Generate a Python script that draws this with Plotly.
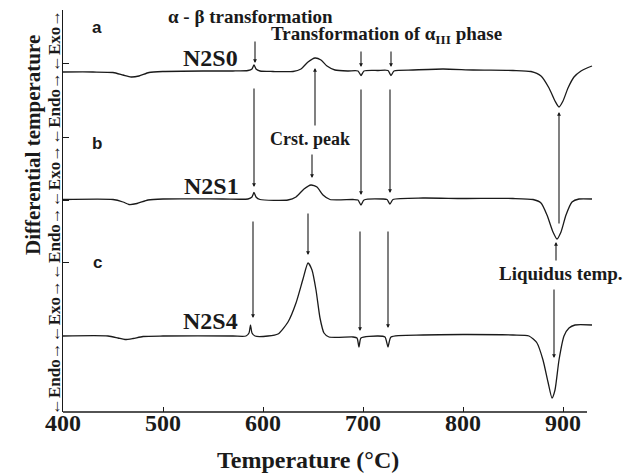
import plotly.graph_objects as go

# ---- data (temperature in °C, signal in arbitrary units) ----
temp_a = [400, 430, 450, 460, 468, 476, 486, 500, 540, 570, 585, 589, 591, 593, 597, 610, 630, 638, 645, 652,
          658, 664, 672, 685, 695, 698, 701, 715, 725, 728, 731, 750, 780, 810, 850, 868, 878, 886, 892, 896,
          900, 905, 911, 918, 924, 929]
sig_a = [340, 340, 339.5, 337, 335, 336, 339.5, 340.5, 341, 341, 341.5, 343, 347, 343, 341, 340.5, 340.5, 343, 350, 354,
         352, 346, 342, 341, 341, 336.5, 341, 341.5, 341.5, 336.5, 341, 342, 343, 342, 341.5, 340.5, 336, 324, 311, 305,
         311, 324, 335, 341, 344, 346]

temp_b = [400, 450, 460, 466, 474, 485, 500, 560, 585, 589, 591, 593, 597, 625, 633, 641, 648, 654, 660, 667,
          690, 695, 698, 701, 720, 724, 727, 730, 760, 800, 850, 870, 878, 884, 890, 894, 898, 903, 909, 916, 929]
sig_b = [212.5, 212.5, 210, 207.5, 208.5, 212, 213, 213, 213, 215, 219.5, 215, 212.5, 212, 215, 223, 227, 225, 217, 212.5,
         212.5, 212, 207, 212, 213, 212.5, 208, 212.5, 214, 213.5, 213.5, 212.5, 209, 197, 180, 173, 180, 197, 210, 213, 213]

temp_c = [400, 445, 455, 462, 470, 480, 500, 570, 583, 586, 587.5, 589, 592, 605, 615, 625, 633, 640, 645, 649,
          653, 657, 661, 666, 690, 694, 696, 698, 715, 722, 725, 728, 760, 800, 850, 866, 874, 880, 885, 889,
          892, 896, 901, 906, 912, 929]
sig_c = [76, 76, 74, 72.5, 73.5, 75.5, 76, 76, 76, 79, 87, 79, 76, 76, 78, 90, 109, 133, 149, 142,
         122, 94, 79, 75, 75, 74, 65, 74, 76, 75, 65, 75, 77, 77.5, 77, 76, 69, 52, 30, 14,
         22, 52, 76, 84, 87, 87]

# marker arrows: (temperature, tail signal, head signal)
arrows = [
    (592, 372, 349), (591, 325, 225), (590, 192, 94),     # alpha-beta transformation
    (652, 285, 344), (649, 259, 234), (645, 200, 157),    # crystallisation peak
    (698, 362, 345), (698, 324, 217), (697, 182, 81),     # alpha_III (1)
    (728, 362, 345), (727, 324, 219), (725, 182, 84),     # alpha_III (2)
    (896, 187, 300), (893, 150, 170), (891, 124, 54),     # liquidus
]

x_ticks = [400, 500, 600, 700, 800, 900]
y_ticks = [349, 275, 212, 150]

curve_labels = [("a", 434, 385), ("b", 434, 269), ("c", 434, 150)]
sample_labels = [("N2S0", 547, 354), ("N2S1", 548, 226), ("N2S4", 547, 91)]

SERIF = "Liberation Serif, Times New Roman, serif"
SANS = "Liberation Sans, Arial, sans-serif"
INK = "#1a1a1a"

fig = go.Figure()
for t, s in [(temp_a, sig_a), (temp_b, sig_b), (temp_c, sig_c)]:
    fig.add_trace(go.Scatter(x=t, y=s, mode="lines",
                             line=dict(color=INK, width=1.3, shape="spline", smoothing=0.6),
                             showlegend=False, hoverinfo="skip"))

ann = []
for t, tail, head in arrows:
    ann.append(dict(x=t, y=head, ax=t, ay=tail, xref="x", yref="y", axref="x", ayref="y",
                    text="", showarrow=True, arrowhead=2, arrowsize=0.7, arrowwidth=1.1,
                    arrowcolor=INK))
for txt, t, s in curve_labels:
    ann.append(dict(x=t, y=s, xref="x", yref="y", text=txt, showarrow=False,
                    font=dict(family=SANS, size=17, color=INK, weight="bold")))
for txt, t, s in sample_labels:
    ann.append(dict(x=t, y=s, xref="x", yref="y", text=txt, showarrow=False,
                    font=dict(family=SERIF, size=24, color=INK, weight="bold")))

# paper coordinates for texts outside the plotting area (plot: x 63..593 px, y 10..412 px)
def px_x(px):
    return (px - 63) / 530.0

def px_y(py):
    return (412 - py) / 402.0

ann += [
    dict(x=503, y=396, xref="x", yref="y", xanchor="left", showarrow=False,
         text="α - β transformation", font=dict(family=SERIF, size=19, color=INK, weight="bold")),
    dict(x=606, y=377, xref="x", yref="y", xanchor="left", showarrow=False,
         text="Transformation of α<sub>III</sub> phase", font=dict(family=SERIF, size=19, color=INK, weight="bold")),
    dict(x=605, y=273, xref="x", yref="y", xanchor="left", showarrow=False,
         text="Crst. peak", font=dict(family=SERIF, size=18, color=INK, weight="bold")),
    dict(x=834, y=139, xref="x", yref="y", xanchor="left", showarrow=False,
         text="Liquidus temp.", font=dict(family=SERIF, size=19, color=INK, weight="bold")),
    dict(x=px_x(308), y=px_y(460), xref="paper", yref="paper", xanchor="center", yanchor="middle",
         showarrow=False,
         text="Temperature (°C)", font=dict(family=SERIF, size=24, color=INK, weight="bold")),
    dict(x=px_x(33), y=px_y(145), xref="paper", yref="paper", xanchor="center", yanchor="middle",
         showarrow=False, textangle=-90,
         text="Differential temperature", font=dict(family=SERIF, size=21, color=INK, weight="bold")),
    dict(x=px_x(54), y=px_y(213), xref="paper", yref="paper", xanchor="center", yanchor="middle",
         showarrow=False, textangle=-90,
         text="←Endo→←Exo→←Endo→←Exo→←Endo→←Exo→", font=dict(family=SERIF, size=17, color=INK, weight="bold")),
]

fig.update_layout(
    width=633, height=474,
    margin=dict(l=63, r=40, t=10, b=62, autoexpand=False),
    paper_bgcolor="white", plot_bgcolor="white",
    annotations=ann,
    shapes=[dict(type="line", xref="x", yref="paper", x0=400, x1=924, y0=0, y1=0,
                 line=dict(color=INK, width=1.6))],
    xaxis=dict(range=[400, 930], showgrid=False, zeroline=False, showline=False,
               tickvals=x_ticks, ticks="inside", ticklen=5, tickcolor=INK, tickwidth=1.2,
               ticklabelstandoff=-6,
               tickfont=dict(family=SERIF, size=24, color=INK, weight="bold")),
    yaxis=dict(range=[0, 402], showgrid=False, zeroline=False, showline=True, linecolor=INK,
               linewidth=1.4, tickvals=y_ticks, ticks="inside", ticklen=6, tickcolor=INK,
               showticklabels=False),
)

fig.write_html("out.html", config={"displayModeBar": False},
               post_script="document.body.style.margin='0';")
